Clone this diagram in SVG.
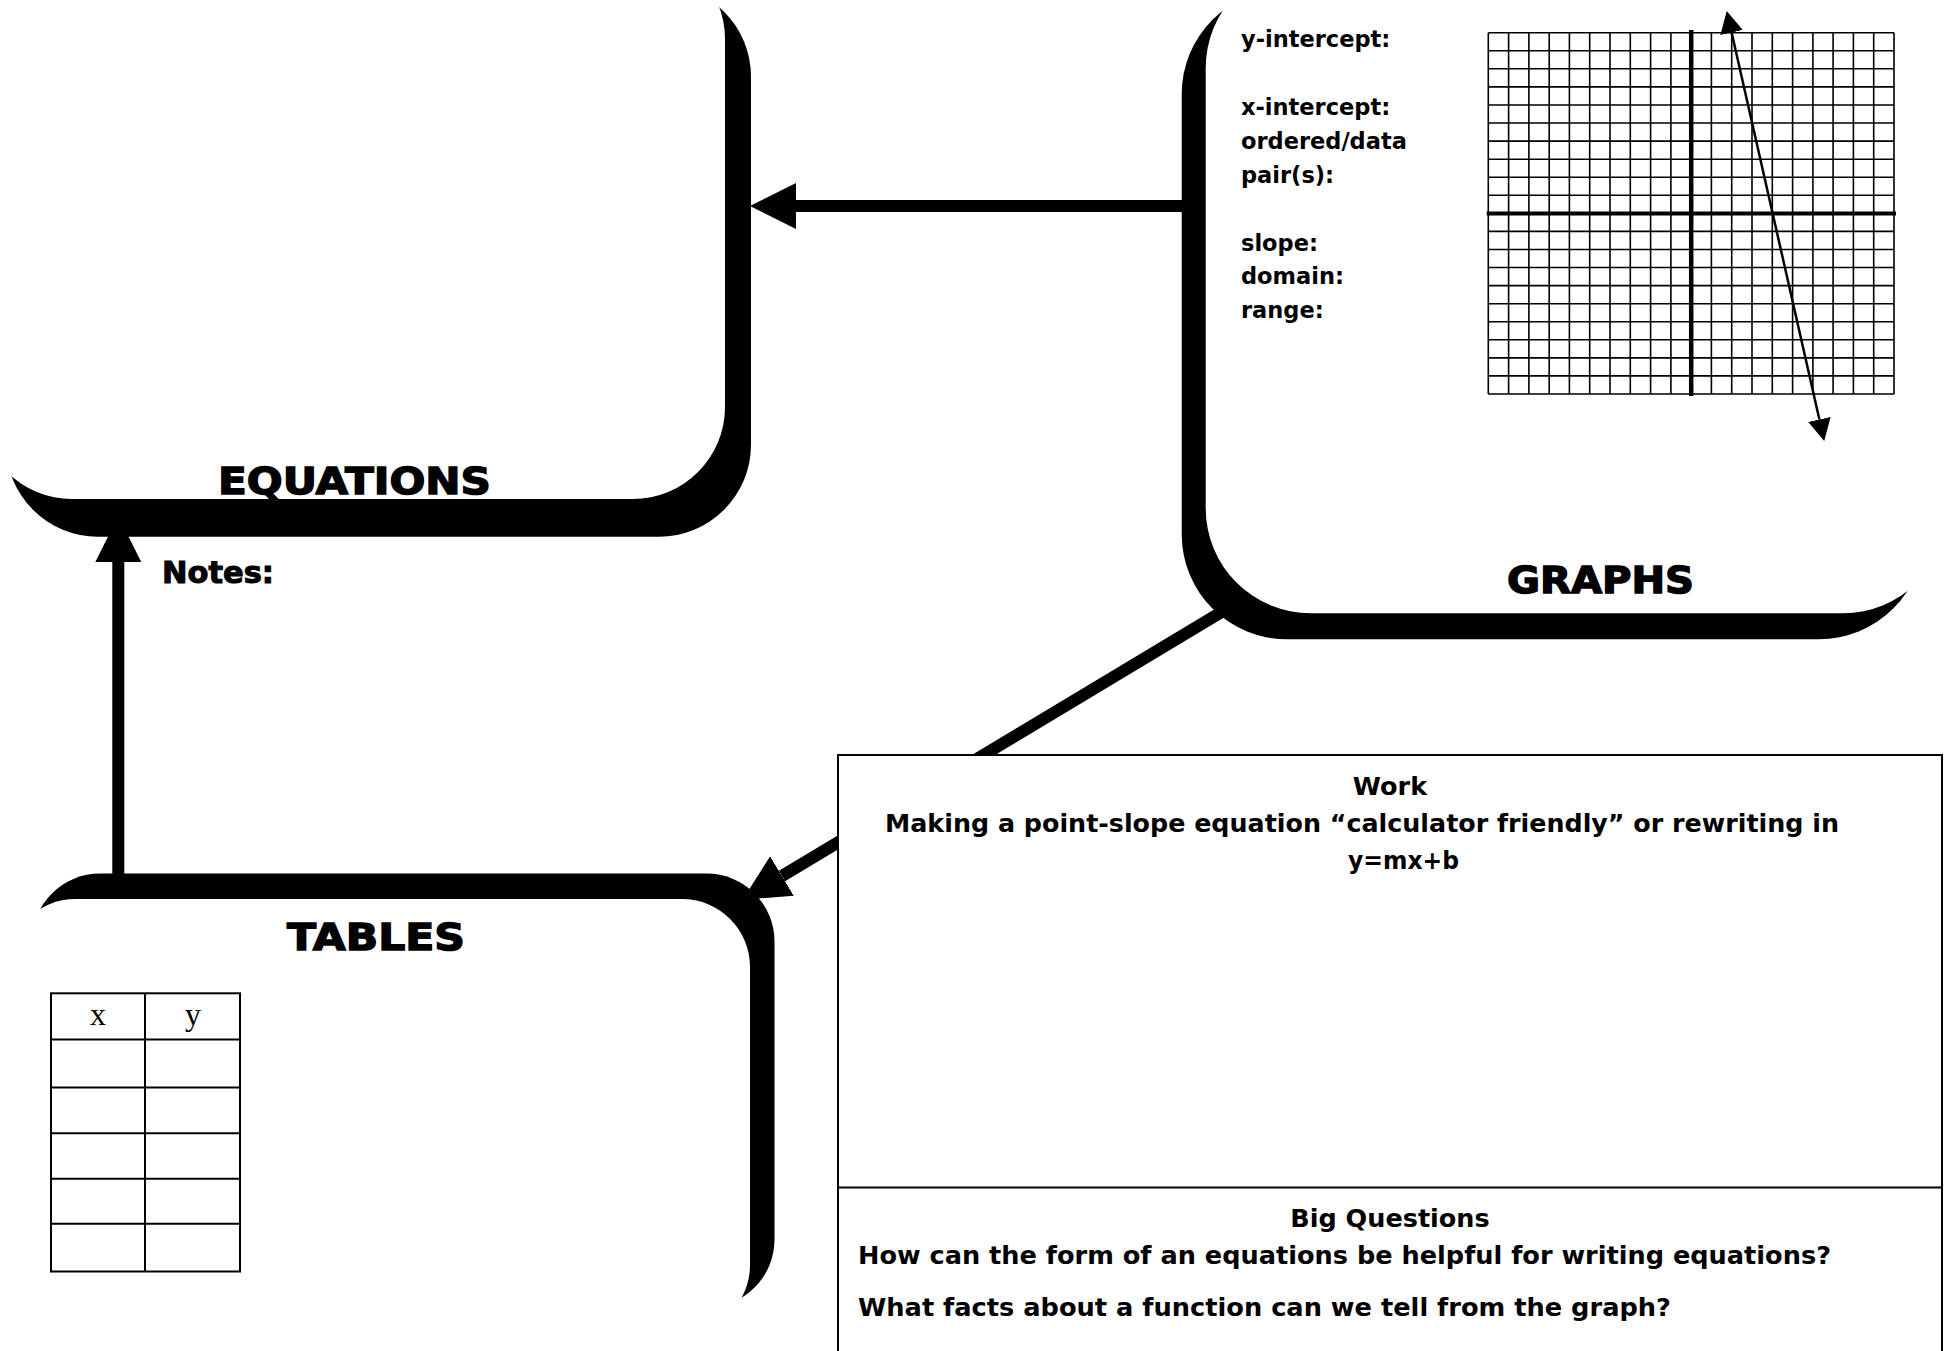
<svg xmlns="http://www.w3.org/2000/svg" width="1944" height="1351" viewBox="0 0 1944 1351">
<style>
.shadow{fill:#000}
.face{fill:#fff}
.title{font-family:"DejaVu Sans","Liberation Sans",sans-serif;font-weight:bold;font-size:38px;fill:#000;stroke:#000;stroke-width:1.4px}
.lbl{font-family:"DejaVu Sans","Liberation Sans",sans-serif;font-weight:bold;font-size:22.5px;fill:#000}
.body{font-family:"DejaVu Sans","Liberation Sans",sans-serif;font-weight:bold;font-size:25.5px;fill:#000}
.notes{font-family:"DejaVu Sans","Liberation Sans",sans-serif;font-weight:bold;font-size:30px;fill:#000;stroke:#000;stroke-width:1px}
.serif{font-family:"Liberation Serif","Times New Roman",serif;font-size:32px;fill:#000}
.conn{stroke:#000;stroke-width:12;fill:none}
.grid{stroke:#000;stroke-width:1.6;fill:none}
.axis{stroke:#000;fill:none}
.cell{stroke:#000;stroke-width:2;fill:none}
</style>
<defs>
<marker id="bigArrow" markerUnits="userSpaceOnUse" markerWidth="46" markerHeight="46" viewBox="0 0 45 45" refX="0" refY="22.5" orient="auto">
<path d="M0,0 L45,22.5 L0,45 Z" fill="#000"/>
</marker>
<marker id="smallArrow" markerUnits="userSpaceOnUse" markerWidth="22" markerHeight="23" viewBox="0 0 21 22" refX="0" refY="11" orient="auto-start-reverse">
<path d="M0,0 L21,11 L0,22 Z" fill="#000"/>
</marker>
</defs>
<rect x="0" y="0" width="1944" height="1351" fill="#fff"/>

<g id="connectors">
<line class="conn" x1="1195" y1="206" x2="796" y2="206" marker-end="url(#bigArrow)"/>
<line class="conn" x1="118.3" y1="885" x2="118.3" y2="562" marker-end="url(#bigArrow)"/>
<line class="conn" x1="1228" y1="608.2" x2="782" y2="876" marker-end="url(#bigArrow)"/>
</g>

<g id="equations">
<rect class="shadow" x="6" y="-15.3" width="745" height="552" rx="92" ry="92"/>
<rect class="face" x="-20" y="-53" width="745" height="552" rx="92" ry="92"/>
<text class="title" x="218" y="494" textLength="273" lengthAdjust="spacingAndGlyphs">EQUATIONS</text>
</g>

<g id="graphs">
<rect class="shadow" x="1181.7" y="-11" width="742.3" height="650.3" rx="105" ry="105"/>
<rect class="face" x="1205.7" y="-37" width="742.3" height="650.3" rx="105" ry="105"/>
<text class="lbl" x="1241" y="47">y-intercept:</text>
<text class="lbl" x="1241" y="115">x-intercept:</text>
<text class="lbl" x="1241" y="149">ordered/data</text>
<text class="lbl" x="1241" y="183">pair(s):</text>
<text class="lbl" x="1241" y="251">slope:</text>
<text class="lbl" x="1241" y="284">domain:</text>
<text class="lbl" x="1241" y="318">range:</text>
<g id="coordinate-grid">
<path class="grid" d="M1488.3 32.7V394M1508.6 32.7V394M1528.9 32.7V394M1549.2 32.7V394M1569.4 32.7V394M1589.7 32.7V394M1610 32.7V394M1630.3 32.7V394M1650.6 32.7V394M1670.9 32.7V394M1711.4 32.7V394M1731.7 32.7V394M1752 32.7V394M1772.3 32.7V394M1792.6 32.7V394M1812.9 32.7V394M1833.1 32.7V394M1853.4 32.7V394M1873.7 32.7V394M1894 32.7V394"/>
<path class="grid" d="M1488.3 32.7H1894M1488.3 50.8H1894M1488.3 68.8H1894M1488.3 86.9H1894M1488.3 105H1894M1488.3 123H1894M1488.3 141.1H1894M1488.3 159.2H1894M1488.3 177.2H1894M1488.3 195.3H1894M1488.3 231.4H1894M1488.3 249.5H1894M1488.3 267.5H1894M1488.3 285.6H1894M1488.3 303.7H1894M1488.3 321.7H1894M1488.3 339.8H1894M1488.3 357.9H1894M1488.3 375.9H1894M1488.3 394H1894"/>
<line class="axis" x1="1486.7" y1="213.4" x2="1896" y2="213.4" stroke-width="4"/>
<line class="axis" x1="1691.2" y1="30" x2="1691.2" y2="396" stroke-width="4.5"/>
<line class="axis" x1="1731.6" y1="32.5" x2="1819.4" y2="419.5" stroke-width="2.5" marker-start="url(#smallArrow)" marker-end="url(#smallArrow)"/>
</g>
<text class="title" x="1507" y="592.6" textLength="187" lengthAdjust="spacingAndGlyphs">GRAPHS</text>
</g>

<g id="notes">
<text class="notes" x="162" y="582.5" textLength="112" lengthAdjust="spacingAndGlyphs">Notes:</text>
</g>

<g id="tables">
<rect class="shadow" x="32" y="873.5" width="742.5" height="434" rx="68" ry="68"/>
<rect class="face" x="7.5" y="899" width="742.5" height="434" rx="68" ry="68"/>
<text class="title" x="287" y="950" textLength="178" lengthAdjust="spacingAndGlyphs">TABLES</text>
<g id="xy-table">
<rect class="cell" x="51" y="993.3" width="189" height="278.2"/>
<path class="cell" d="M145 993.3V1271.5M51 1039.4H240M51 1087.6H240M51 1133.2H240M51 1178.8H240M51 1223.8H240"/>
<text class="serif" x="98" y="1024.6" text-anchor="middle">x</text>
<text class="serif" x="193" y="1024.6" text-anchor="middle">y</text>
</g>
</g>

<g id="work">
<rect x="838" y="755" width="1104" height="620" fill="#fff" stroke="#000" stroke-width="2"/>
<line x1="838" y1="1187.5" x2="1942" y2="1187.5" stroke="#000" stroke-width="2"/>
<text class="body" x="1390" y="795" text-anchor="middle">Work</text>
<text class="body" x="885" y="832" textLength="954" lengthAdjust="spacingAndGlyphs">Making a point-slope equation “calculator friendly” or rewriting in</text>
<text class="body" x="1348" y="869" textLength="111" lengthAdjust="spacingAndGlyphs">y=mx+b</text>
<text class="body" x="1390" y="1227" text-anchor="middle">Big Questions</text>
<text class="body" x="858" y="1264" textLength="973" lengthAdjust="spacingAndGlyphs">How can the form of an equations be helpful for writing equations?</text>
<text class="body" x="858" y="1316" textLength="813" lengthAdjust="spacingAndGlyphs">What facts about a function can we tell from the graph?</text>
</g>
</svg>
